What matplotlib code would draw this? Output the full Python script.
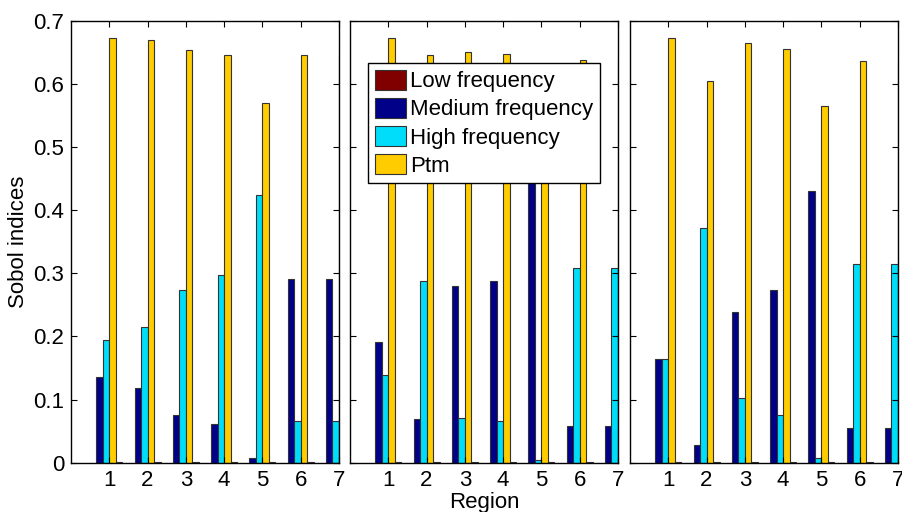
import numpy as np
import matplotlib
matplotlib.use('Agg')
import matplotlib.pyplot as plt

plt.rcParams['font.family'] = ['Liberation Sans', 'DejaVu Sans']

regions = [1, 2, 3, 4, 5, 6, 7]
labels = ['Low frequency', 'Medium frequency', 'High frequency', 'Ptm']

# one list per panel, per series
low_1 = [0.001, 0.001, 0.001, 0.001, 0.001, 0.001, 0.001]
med_1 = [0.135, 0.118, 0.075, 0.061, 0.008, 0.291, 0.291]
high_1 = [0.195, 0.215, 0.274, 0.297, 0.424, 0.066, 0.066]
ptm_1 = [0.672, 0.669, 0.653, 0.645, 0.570, 0.645, 0.645]

low_2 = [0.001, 0.001, 0.001, 0.001, 0.001, 0.001, 0.001]
med_2 = [0.191, 0.069, 0.280, 0.288, 0.444, 0.058, 0.058]
high_2 = [0.139, 0.288, 0.071, 0.066, 0.004, 0.309, 0.309]
ptm_2 = [0.672, 0.645, 0.651, 0.648, 0.570, 0.637, 0.637]

low_3 = [0.001, 0.001, 0.001, 0.001, 0.001, 0.001, 0.001]
med_3 = [0.165, 0.028, 0.238, 0.274, 0.431, 0.055, 0.055]
high_3 = [0.165, 0.371, 0.102, 0.076, 0.007, 0.314, 0.314]
ptm_3 = [0.673, 0.605, 0.665, 0.655, 0.565, 0.636, 0.636]

panels = [(low_1, med_1, high_1, ptm_1),
          (low_2, med_2, high_2, ptm_2),
          (low_3, med_3, high_3, ptm_3)]

col_low = '#800000'
col_med = '#000088'
col_high = '#00DDFA'
col_ptm = '#FFCC00'
edge = '#333333'

fs = 16
fig = plt.figure(figsize=(9.02, 5.12), dpi=100)
lefts = [0.0787, 0.388, 0.6984]
w = 0.17
x = np.array(regions)

for i, (low, med, high, ptm) in enumerate(panels):
    ax = fig.add_axes([lefts[i], 0.0963, 0.2971, 0.8633])
    b_low = ax.bar(x + 1.5 * w, low, w, color=col_low, edgecolor=edge, lw=0.8)
    b_med = ax.bar(x - 1.5 * w, med, w, color=col_med, edgecolor=edge, lw=0.8)
    b_high = ax.bar(x - 0.5 * w, high, w, color=col_high, edgecolor=edge, lw=0.8)
    b_ptm = ax.bar(x + 0.5 * w, ptm, w, color=col_ptm, edgecolor=edge, lw=0.8)
    ax.set_xlim(0, 7)
    ax.set_ylim(0, 0.7)
    ax.set_xticks(regions)
    ax.set_yticks(np.arange(0, 0.71, 0.1))
    ax.tick_params(direction='in', top=True, right=True, length=4,
                   labelsize=fs, pad=5)
    for s in ax.spines.values():
        s.set_linewidth(1.0)
    if i == 0:
        ax.set_yticklabels(['0', '0.1', '0.2', '0.3', '0.4', '0.5', '0.6', '0.7'])
        ax.set_ylabel('Sobol indices', fontsize=fs, labelpad=3)
    else:
        ax.set_yticklabels([])
    if i == 1:
        ax.set_xlabel('Region', fontsize=fs, labelpad=1)
        leg = ax.legend([b_low, b_med, b_high, b_ptm], labels,
                        loc='upper left', bbox_to_anchor=(0.067, 0.904),
                        borderaxespad=0, fontsize=fs, fancybox=False,
                        edgecolor='black', framealpha=1, handlelength=1.4,
                        handleheight=1.0, handletextpad=0.2, labelspacing=0.25,
                        borderpad=0.3)
        leg.get_frame().set_linewidth(1.0)

fig.savefig('out.png', dpi=100)
